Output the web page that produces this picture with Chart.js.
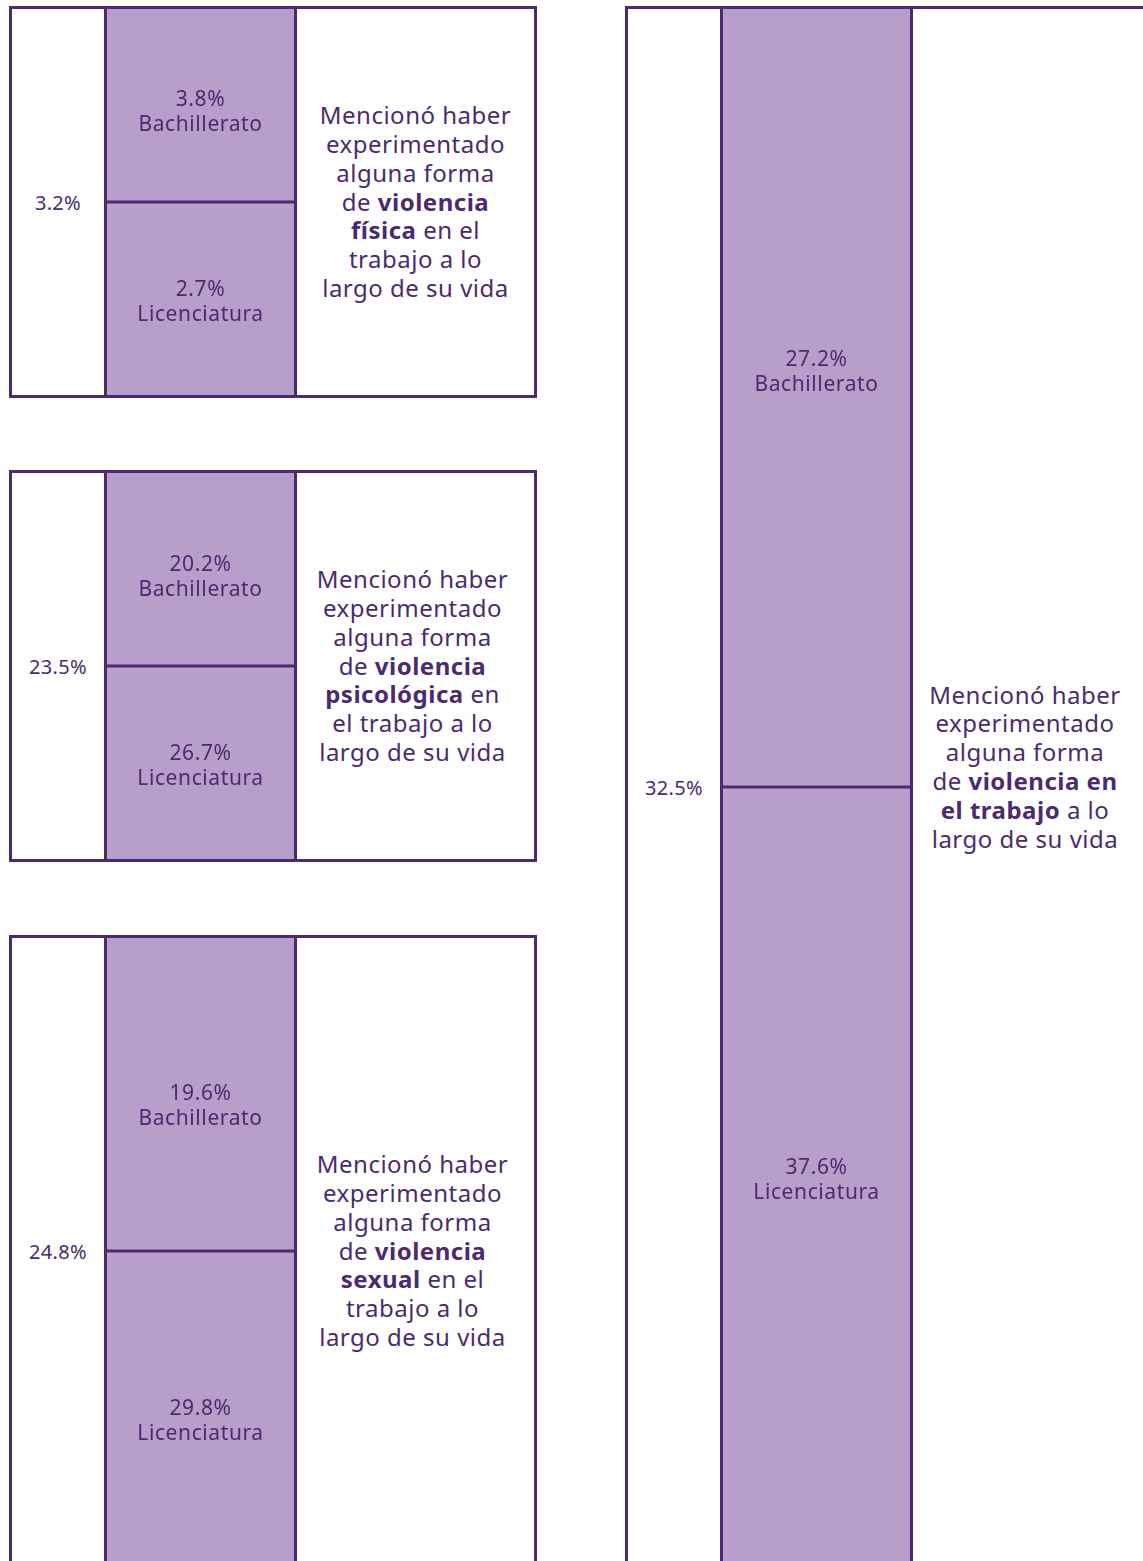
<!DOCTYPE html>
<html lang="es">
<head>
<meta charset="utf-8">
<script src="https://cdn.jsdelivr.net/npm/chart.js@4"></script>
<style>
  body { margin:0; width:1143px; height:1561px; overflow:hidden; background:#fff;
         font-family:"Noto Sans", sans-serif; color:#4b2a6f; position:relative; }
  .panel { position:absolute; box-sizing:border-box; border:3px solid #4b2a6f; }
  .total { position:absolute; left:0; top:0; width:92px; height:100%; display:flex;
           align-items:center; justify-content:center; font-size:20px; letter-spacing:0.3px; }
  .mid { position:absolute; left:92px; top:0; width:193px; height:100%; box-sizing:border-box;
         border-left:3px solid #4b2a6f; border-right:3px solid #4b2a6f; }
  .mid div { position:relative; width:100%; height:100%; }
  .text { position:absolute; left:285px; right:0; top:0; height:100%; display:flex;
          align-items:center; justify-content:center; text-align:center;
          font-size:24px; line-height:28.8px; letter-spacing:0.5px; }
  .text b { font-weight:700; }
</style>
</head>
<body>
<script>
// data
const levels = ['Bachillerato', 'Licenciatura'];
const totalPct = [3.2, 23.5, 24.8, 32.5];
const bachilleratoPct = [3.8, 20.2, 19.6, 27.2];
const licenciaturaPct = [2.7, 26.7, 29.8, 37.6];
const levelShare = [1, 1]; // each level fills half of the column
const captions = [
  'Mencionó haber<br>experimentado<br>alguna forma<br>de <b>violencia</b><br><b>física</b> en el<br>trabajo a lo<br>largo de su vida',
  'Mencionó haber<br>experimentado<br>alguna forma<br>de <b>violencia</b><br><b>psicológica</b> en<br>el trabajo a lo<br>largo de su vida',
  'Mencionó haber<br>experimentado<br>alguna forma<br>de <b>violencia</b><br><b>sexual</b> en el<br>trabajo a lo<br>largo de su vida',
  'Mencionó haber<br>experimentado<br>alguna forma<br>de <b>violencia en</b><br><b>el trabajo</b> a lo<br>largo de su vida'
];

// layout of the four boxes (label offsets: top cell, bottom cell)
const boxes = [
  { left: 9, top: 6, width: 528, height: 392, textDx: 0, textDy: 0, labelDy: [3, 0] },
  { left: 9, top: 470, width: 528, height: 392, textDx: -3, textDy: 0, labelDy: [4, 0] },
  { left: 9, top: 935, width: 528, height: 632, textDx: -3, textDy: 0, labelDy: [8, 10] },
  { left: 625, top: 6, width: 525, height: 1562, textDx: -5, textDy: -40, labelDy: [-29, 1] }
];

const dark = '#4b2a6f';

const cellLabels = {
  id: 'cellLabels',
  afterDatasetsDraw(chart, args, opts) {
    const ctx = chart.ctx;
    ctx.save();
    // divider between the two levels
    const first = chart.getDatasetMeta(0).data[0];
    ctx.strokeStyle = dark;
    ctx.lineWidth = 3;
    ctx.beginPath();
    ctx.moveTo(chart.chartArea.left, first.y);
    ctx.lineTo(chart.chartArea.right, first.y);
    ctx.stroke();

    ctx.fillStyle = dark;
    ctx.font = '21px "Noto Sans"';
    ctx.letterSpacing = '0.6px';
    ctx.textAlign = 'center';
    ctx.textBaseline = 'middle';
    chart.data.datasets.forEach((ds, i) => {
      const el = chart.getDatasetMeta(i).data[0];
      const cy = (el.y + el.base) / 2 + 4 + opts.dy[i];
      ctx.fillText(opts.pcts[i].toFixed(1) + '%', el.x, cy - 12.5);
      ctx.fillText(ds.label, el.x, cy + 12.5);
    });
    ctx.restore();
  }
};

boxes.forEach((b, i) => {
  const panel = document.createElement('div');
  panel.className = 'panel';
  panel.style.left = b.left + 'px';
  panel.style.top = b.top + 'px';
  panel.style.width = b.width + 'px';
  panel.style.height = b.height + 'px';
  panel.innerHTML =
    '<div class="total">' + totalPct[i].toFixed(1) + '%</div>' +
    '<div class="mid"><div><canvas></canvas></div></div>' +
    '<div class="text"><span style="transform:translate(' + b.textDx + 'px,' + b.textDy / 2 + 'px)">' +
    captions[i] + '</span></div>';
  document.body.appendChild(panel);

  new Chart(panel.querySelector('canvas'), {
    type: 'bar',
    data: {
      labels: [''],
      datasets: levels.map((lv, j) => ({
        label: lv,
        data: [levelShare[j]],
        backgroundColor: '#b89ecb',
        borderWidth: 0,
        barPercentage: 1,
        categoryPercentage: 1
      }))
    },
    options: {
      responsive: true,
      maintainAspectRatio: false,
      animation: false,
      layout: { padding: 0 },
      scales: {
        x: { display: false, stacked: true },
        y: { display: false, stacked: true, reverse: true, min: 0,
             max: levelShare.reduce((a, v) => a + v, 0) }
      },
      plugins: {
        legend: { display: false },
        tooltip: { enabled: false },
        cellLabels: { pcts: [bachilleratoPct[i], licenciaturaPct[i]], dy: b.labelDy }
      }
    },
    plugins: [cellLabels]
  });
});
</script>
</body>
</html>
